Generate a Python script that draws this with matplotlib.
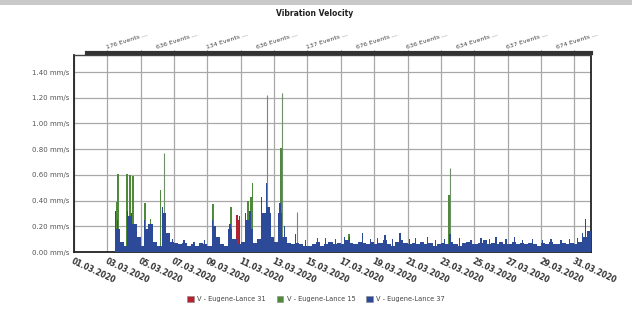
import matplotlib
matplotlib.use("Agg")
import matplotlib.pyplot as plt
from matplotlib.patches import Patch, Rectangle
import numpy as np

# ---------------- data ----------------
title = "Vibration Velocity"
date_labels = ["01.03.2020", "03.03.2020", "05.03.2020", "07.03.2020", "09.03.2020",
               "11.03.2020", "13.03.2020", "15.03.2020", "17.03.2020", "19.03.2020",
               "21.03.2020", "23.03.2020", "25.03.2020", "27.03.2020", "29.03.2020",
               "31.03.2020"]
date_ticks = [0, 2, 4, 6, 8, 10, 12, 14, 16, 18, 20, 22, 24, 26, 28, 30]  # days since 01.03
event_days = [2, 5, 8, 11, 14, 17, 20, 23, 26, 29]
event_counts = [176, 636, 134, 636, 137, 676, 636, 634, 637, 674]
y_ticks = [0.0, 0.2, 0.4, 0.6, 0.8, 1.0, 1.2, 1.4]

series_names = ["V - Eugene-Lance 31", "V - Eugene-Lance 15", "V - Eugene-Lance 37"]
series_colors = ["#b3232f", "#4f8a3a", "#2c4a98"]

# blue baseline, 6-hour steps starting at day 2.5
base_start = 2.5
base_step = 0.25
blue_base = [0.18, 0.08,
             0.05, 0.28, 0.22, 0.12,
             0.05, 0.18, 0.22, 0.08,
             0.05, 0.30, 0.15, 0.08,
             0.07, 0.06, 0.07, 0.05,
             0.06, 0.05, 0.07, 0.06,
             0.05, 0.20, 0.12, 0.06,
             0.05, 0.18, 0.10, 0.06,
             0.08, 0.25, 0.18, 0.07,
             0.10, 0.30, 0.35, 0.12,
             0.08, 0.30, 0.12, 0.07,
             0.06, 0.07, 0.06, 0.05,
             0.05, 0.06, 0.08, 0.05,
             0.06, 0.08, 0.06, 0.07,
             0.06, 0.09, 0.07, 0.06,
             0.08, 0.07, 0.06, 0.08,
             0.06, 0.07, 0.09, 0.06,
             0.05, 0.08, 0.09, 0.07,
             0.06, 0.07, 0.06, 0.08,
             0.06, 0.07, 0.05, 0.06,
             0.07, 0.06, 0.08, 0.06,
             0.05, 0.07, 0.08, 0.06,
             0.06, 0.07, 0.09, 0.06,
             0.07, 0.06, 0.08, 0.06,
             0.06, 0.08, 0.06, 0.07,
             0.06, 0.07, 0.06, 0.05,
             0.07, 0.06, 0.08, 0.06,
             0.06, 0.07, 0.06, 0.07,
             0.06, 0.08, 0.12, 0.16]

blue_peak_days = [2.5, 2.6, 3.2, 3.45, 3.6, 4.25, 4.45, 5.3, 5.45, 5.9, 6.6, 7.2,
                  7.8, 8.3, 8.5, 9.35, 9.9, 10.3, 10.55, 11.25, 11.55, 11.75, 12.35,
                  12.6, 13.3, 13.9, 14.6, 15.1, 15.7, 16.2, 16.5, 17.3, 17.8, 18.2,
                  18.65, 19.1, 19.55, 20.1, 20.5, 21.2, 21.7, 22.2, 22.55, 23.1,
                  23.8, 24.4, 24.9, 25.3, 25.9, 26.4, 26.9, 27.5, 28.1, 28.6, 29.2,
                  29.7, 30.2, 30.5, 30.65]
blue_peak_vals = [0.32, 0.25, 0.32, 0.30, 0.22, 0.25, 0.22, 0.35, 0.28, 0.10, 0.09, 0.08,
                  0.09, 0.25, 0.20, 0.22, 0.28, 0.30, 0.32, 0.43, 0.54, 0.30, 0.38,
                  0.20, 0.14, 0.09, 0.11, 0.11, 0.10, 0.12, 0.12, 0.15, 0.10, 0.11,
                  0.13, 0.10, 0.15, 0.10, 0.11, 0.12, 0.09, 0.10, 0.14, 0.11,
                  0.09, 0.11, 0.10, 0.12, 0.10, 0.12, 0.09, 0.10, 0.09, 0.10, 0.09,
                  0.10, 0.11, 0.15, 0.26]

green_peak_days = [2.57, 2.63, 3.17, 3.35, 3.53, 4.25, 4.6, 5.2, 8.32, 9.4, 10.42,
                   10.6, 10.7, 12.4, 16.5, 22.5]
green_peak_vals = [0.39, 0.61, 0.61, 0.60, 0.59, 0.38, 0.26, 0.48, 0.37, 0.35, 0.40,
                   0.43, 0.54, 0.81, 0.14, 0.44]

thin_peak_days = [5.39, 11.6, 12.45, 13.35, 22.55]
thin_peak_vals = [0.77, 1.22, 1.24, 0.31, 0.65]

red_peak_days = [9.76, 9.9, 16.45]
red_peak_vals = [0.29, 0.25, 0.12]

# ---------------- figure ----------------
fig = plt.figure(figsize=(6.32, 3.09), dpi=100)
fig.patch.set_facecolor("white")

# header strip
fig.add_artist(Rectangle((0, 1 - 5 / 309), 1, 5 / 309, transform=fig.transFigure,
                         facecolor="#c9c9c9", edgecolor="none"))

ax = fig.add_axes([74 / 632, 1 - 252 / 309, (591 - 74) / 632, (252 - 55) / 309])
ax.set_xlim(0, 31)
ax.set_ylim(0, 1.533)

base_x = base_start + base_step * np.arange(len(blue_base))
ax.bar(red_peak_days, red_peak_vals, width=0.09, color=series_colors[0], zorder=2, linewidth=0)
ax.bar(green_peak_days, green_peak_vals, width=0.09, color=series_colors[1], zorder=2, linewidth=0)
ax.vlines(thin_peak_days, 0, thin_peak_vals, color="#6f8f6a", lw=0.8, zorder=2)
ax.bar(base_x, blue_base, width=base_step, align="edge", color=series_colors[2],
       zorder=3, linewidth=0)
ax.bar(blue_peak_days, blue_peak_vals, width=0.07, color=series_colors[2], zorder=3, linewidth=0)

ax.set_yticks(y_ticks)
ax.set_yticklabels([f"{v:.2f} mm/s" for v in y_ticks], fontsize=5, color="#555555")
ax.set_xticks(date_ticks)
ax.set_xticklabels(date_labels, rotation=-25, ha="left", va="top", rotation_mode="anchor",
                   fontsize=5.5, fontweight="bold", color="#333333")
ax.tick_params(axis="both", length=0, pad=3)
ax.grid(True, color="#a8a8a8", lw=0.9)
ax.set_axisbelow(True)
for s in ["left", "bottom", "right"]:
    ax.spines[s].set_color("#222222")
    ax.spines[s].set_linewidth(1.3)
ax.spines["top"].set_color("#444444")
ax.spines["top"].set_linewidth(1.0)

# top event axis
ax2 = ax.twiny()
ax2.set_xlim(ax.get_xlim())
ax2.spines["top"].set_position(("outward", 1.5))
ax2.spines["top"].set_bounds(0.8, 31)
ax2.spines["top"].set_linewidth(3)
ax2.spines["top"].set_color("#333333")
for s in ["left", "right", "bottom"]:
    ax2.spines[s].set_visible(False)
ax2.set_xticks(date_ticks[1:])
ax2.set_xticklabels([])
ax2.tick_params(axis="x", length=2, width=0.8, color="#666666")
for d, c in zip(event_days, event_counts):
    ax2.text(d, 1.025, f"{c} Events ...", transform=ax2.get_xaxis_transform(),
             rotation=18, ha="left", va="bottom", rotation_mode="anchor",
             fontsize=4.5, color="#444444")

fig.text(315 / 632, 1 - 13 / 309, title, ha="center", va="center", fontsize=5.5,
         fontweight="bold", color="#222222")

handles = [Patch(facecolor=c, edgecolor="#888888", linewidth=0.4) for c in series_colors]
fig.legend(handles, series_names, loc="center", bbox_to_anchor=(0.5, 1 - 299 / 309),
           ncol=3, frameon=False, fontsize=4.8, handlelength=1.0, handleheight=1.0,
           columnspacing=1.6, handletextpad=0.5, labelcolor="#444444")

fig.savefig("out.png", dpi=100, facecolor="white")
